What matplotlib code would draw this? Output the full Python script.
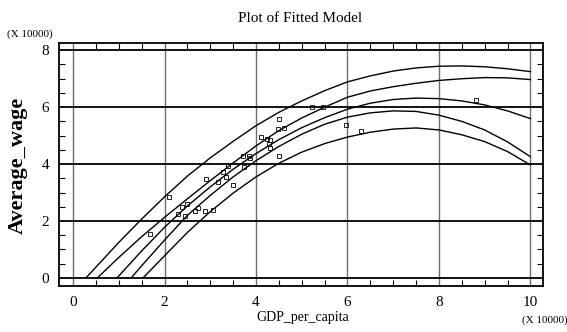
import matplotlib.pyplot as plt
from matplotlib.ticker import MultipleLocator

# observed data, both axes in units of 10000
gdp = [1.69, 2.09, 2.29, 2.38, 2.49, 2.45, 2.67, 2.72, 2.89, 3.06, 2.90, 3.17,
       3.27, 3.35, 3.38, 3.49, 3.71, 3.74, 3.85, 3.87, 4.11, 4.24, 4.31, 4.29,
       4.30, 4.49, 4.50, 4.51, 4.62, 5.22, 5.46, 5.97, 6.30, 8.82]
wage = [1.54, 2.83, 2.25, 2.50, 2.61, 2.16, 2.36, 2.47, 2.35, 2.37, 3.46, 3.38,
        3.73, 3.53, 3.95, 3.25, 4.29, 3.91, 4.28, 4.22, 4.96, 4.87, 4.84, 4.70,
        4.57, 5.25, 5.60, 4.29, 5.28, 6.01, 5.99, 5.36, 5.17, 6.25]

# fitted line and limits
grid_x = [0.5, 1.0, 1.5, 2.0, 2.5, 3.0, 3.5, 4.0, 4.5, 5.0, 5.5, 6.0, 6.5, 7.0,
          7.5, 8.0, 8.5, 9.0, 9.5, 10.0]

upper_pred_x = [0.28] + grid_x
upper_pred = [0, 0.38, 1.25, 2.07, 2.85, 3.58, 4.22, 4.80, 5.35, 5.82, 6.22,
              6.58, 6.89, 7.10, 7.27, 7.38, 7.44, 7.45, 7.42, 7.35, 7.25]

upper_conf_x = [0.53] + grid_x[1:]
upper_conf = [0, 0.72, 1.45, 2.13, 2.78, 3.42, 4.04, 4.64, 5.18, 5.62, 6.00,
              6.35, 6.57, 6.72, 6.84, 6.94, 7.00, 7.04, 7.03, 6.97]

fit_x = [0.96] + grid_x[1:]
fit = [0, 0.07, 0.95, 1.78, 2.53, 3.20, 3.82, 4.37, 4.86, 5.28, 5.63, 5.93,
       6.14, 6.27, 6.32, 6.30, 6.22, 6.08, 5.87, 5.60]

lower_conf_x = [1.27] + grid_x[2:]
lower_conf = [0, 0.43, 1.33, 2.20, 2.90, 3.55, 4.12, 4.62, 5.05, 5.40, 5.65,
              5.80, 5.87, 5.85, 5.72, 5.50, 5.20, 4.78, 4.26]

lower_pred_x = [1.53] + grid_x[3:]
lower_pred = [0, 0.78, 1.60, 2.33, 2.98, 3.55, 4.03, 4.42, 4.72, 4.95, 5.12,
              5.23, 5.27, 5.20, 5.03, 4.79, 4.44, 3.97]

major_ticks = [0, 2, 4, 6, 8, 10]
y_major = [0, 2, 4, 6, 8]

serif = 'Liberation Serif'

fig = plt.figure(figsize=(5.67, 3.32), dpi=100)
ax = fig.add_axes([0.104, 0.139, 0.854, 0.731])

for v in major_ticks:
    ax.axvline(v, color='#6e6e6e', lw=1.0, zorder=1)
for v in y_major:
    ax.axhline(v, color='black', lw=1.3, zorder=1)

for xs, ys in [(upper_pred_x, upper_pred), (upper_conf_x, upper_conf),
               (fit_x, fit), (lower_conf_x, lower_conf),
               (lower_pred_x, lower_pred)]:
    ax.plot(xs, ys, color='black', lw=1.0, zorder=3)

ax.plot(gdp, wage, 's', ms=2.8, mfc='none', mec='black', mew=0.6, zorder=4)

ax.set_xlim(-0.31, 10.28)
ax.set_ylim(-0.28, 8.25)
ax.set_xticks(major_ticks)
ax.set_yticks(y_major)
ax.xaxis.set_minor_locator(MultipleLocator(0.5))
ax.yaxis.set_minor_locator(MultipleLocator(0.5))
ax.tick_params(which='major', length=0, pad=7, labelsize=11)
ax.tick_params(which='minor', direction='in', length=4, width=0.8,
               top=True, right=True, bottom=True, left=True)
for lab in ax.get_xticklabels() + ax.get_yticklabels():
    lab.set_fontfamily(serif)
for s in ax.spines.values():
    s.set_linewidth(1.3)

fig.text(0.53, 1 - 18 / 332, 'Plot of Fitted Model', ha='center', va='center',
         fontsize=11, family=serif)
fig.text(303 / 567, 1 - 317 / 332, 'GDP_per_capita', ha='center', va='center',
         fontsize=10, family=serif)
fig.text(18 / 567, 1 - 165 / 332, 'Average_wage', rotation=90, ha='center',
         va='center', fontsize=16, fontweight='bold', family=serif)
fig.text(30 / 567, 1 - 34 / 332, '(X 10000)', ha='center', va='center',
         fontsize=8, family=serif)
fig.text(545 / 567, 1 - 320 / 332, '(X 10000)', ha='center', va='center',
         fontsize=8, family=serif)

fig.savefig('out.png', dpi=100)
